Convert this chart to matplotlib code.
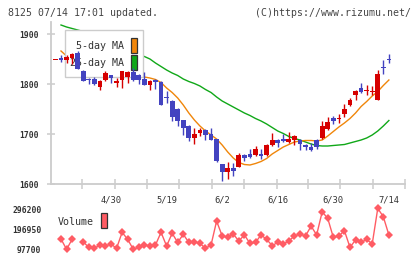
"""
Candlestick chart with 5/25-day moving averages and volume panel (rizumu style).
"""

import numpy as np
import matplotlib
matplotlib.use("Agg")
import matplotlib.pyplot as plt
from matplotlib.patches import Rectangle

W, H = 420, 259

# trading-day index -1 .. 59
opens = [1849, 1853, 1848, 1853, 1863, 1827, 1811, 1811, 1795, 1808, 1818,
         1803, 1809, 1815, 1825, 1818, 1810, 1799, 1809, 1805, 1774,
         1767, 1750, 1728, 1717, 1693, 1703, 1709, 1701, 1690, 1640,
         1625, 1633, 1635, 1658, 1660, 1658, 1661, 1658, 1678, 1689,
         1691, 1685, 1689, 1689, 1678, 1675, 1689, 1692, 1711, 1733,
         1730, 1741, 1758, 1778, 1793, 1787, 1785, 1768, 1834, 1850]
highs = [1849, 1858, 1859, 1862, 1867, 1828, 1813, 1814, 1808, 1826, 1819,
         1812, 1827, 1826, 1833, 1821, 1825, 1808, 1811, 1807, 1786,
         1769, 1752, 1729, 1718, 1713, 1713, 1710, 1713, 1691, 1641,
         1645, 1643, 1663, 1660, 1671, 1676, 1671, 1680, 1703, 1691,
         1701, 1705, 1698, 1690, 1681, 1683, 1690, 1727, 1735, 1736,
         1741, 1761, 1773, 1789, 1803, 1798, 1796, 1828, 1848, 1860]
lows = [1849, 1845, 1843, 1840, 1831, 1806, 1800, 1799, 1788, 1807, 1803,
        1795, 1793, 1803, 1806, 1801, 1799, 1788, 1791, 1758, 1763,
        1727, 1717, 1698, 1687, 1680, 1697, 1688, 1688, 1645, 1607,
        1611, 1616, 1634, 1647, 1652, 1657, 1651, 1656, 1677, 1675,
        1684, 1683, 1678, 1668, 1668, 1666, 1670, 1690, 1709, 1721,
        1723, 1735, 1757, 1769, 1783, 1778, 1778, 1768, 1821, 1843]
closes = [1849, 1848, 1854, 1861, 1831, 1807, 1809, 1800, 1807, 1823, 1813,
          1807, 1826, 1825, 1808, 1809, 1799, 1807, 1805, 1759, 1772,
          1735, 1727, 1713, 1693, 1700, 1709, 1699, 1689, 1646, 1625,
          1633, 1627, 1658, 1653, 1655, 1671, 1657, 1679, 1688, 1683,
          1686, 1691, 1696, 1680, 1675, 1668, 1674, 1716, 1725, 1727,
          1732, 1751, 1768, 1787, 1785, 1789, 1787, 1820, 1832, 1848]

ma5 = [np.nan, 1866, 1856, 1852, 1848, 1838, 1830, 1822, 1816, 1812, 1814,
       1814, 1814, 1815, 1815, 1815, 1814, 1812, 1809, 1803, 1792,
       1783, 1772, 1758, 1742, 1728, 1716, 1706, 1698, 1690, 1678,
       1664, 1652, 1643, 1639, 1638, 1641, 1645, 1651, 1660, 1667,
       1674, 1679, 1684, 1686, 1687, 1687, 1686, 1688, 1696, 1705,
       1714, 1722, 1731, 1742, 1755, 1765, 1776, 1785, 1797, 1808]
ma25 = [np.nan, 1918, 1914, 1911, 1908, 1905, 1902, 1898, 1894, 1889, 1884,
        1879, 1873, 1867, 1862, 1858, 1855, 1850, 1842, 1835, 1828,
        1822, 1817, 1810, 1805, 1801, 1796, 1789, 1783, 1774, 1766,
        1760, 1754, 1748, 1742, 1737, 1731, 1726, 1720, 1713, 1706,
        1701, 1695, 1691, 1688, 1684, 1680, 1677, 1676, 1676, 1677,
        1678, 1679, 1682, 1685, 1688, 1692, 1698, 1706, 1716, 1727]
volume = [np.nan, 148800, 97700, 147000, np.nan, 135000, 107000, 102700,
          119000, 114000, 124000, 102700, 182000, 147000, 97700, 107600,
          119000, 114000, 119000, 182000, 114000, 177000, 132000, 172000,
          132000, 135000, 127000, 102700, 119000, 238000, 164000, 157000,
          173000, 139000, 169000, 127000, 132000, 169000, 147000, 116000,
          132000, 124000, 139000, 164000, 173000, 164000, 213000, 169000,
          284000, 251000, 157000, 164000, 190000, 107600, 144000, 132000,
          147000, 124000, 301000, 259000, 169000]

date_pos = [9, 19, 29, 39, 49, 59]
date_labels = ["4/30", "5/19", "6/2", "6/16", "6/30", "7/14"]
tick_pos = [3.8, 9.7, 15.5, 21.2, 27.2, 32.9, 38.9, 44.4, 50.2, 56.1, 61.9]
price_ticks = [1600, 1700, 1800, 1900]
vol_ticks = [97700, 196950, 296200]

RED = "#d60000"
BLUE = "#4343c0"
ORANGE = "#f0860a"
GREEN = "#10a818"
VOLC = "#ff5c64"
AXC = "#cccccc"
TXT = "#333333"
MONO = "DejaVu Sans Mono"


def fx(x):
    return x / W


def fy(y):
    return 1 - y / H


fig = plt.figure(figsize=(W / 100, H / 100), dpi=100)

# ---- price panel ----
ax = fig.add_axes([fx(51), fy(184), (405 - 51) / W, (184 - 22) / H])
ax.set_xlim(-1.8, 61.9)
ax.set_ylim(1600, 1924)
ax.patch.set_alpha(0)

idx = np.arange(-1, 60)
o = np.array(opens, float)
c = np.array(closes, float)
up = c >= o
cols = np.where(up, RED, BLUE)
body_lo = np.minimum(o, c)
body_h = np.maximum(np.abs(c - o), 1.6)

ax.plot(idx, ma25, color=GREEN, lw=1.0, zorder=1)
ax.plot(idx, ma5, color=ORANGE, lw=1.0, zorder=1)

# legend box (under candles, over MA lines)
ax.add_patch(Rectangle((fx(65), fy(77)), fx(143 - 65), (77 - 30) / H,
                       transform=fig.transFigure, facecolor="white",
                       edgecolor=AXC, lw=1.0, zorder=2))
ax.text(fx(124), fy(46), "5-day MA", transform=fig.transFigure, ha="right",
        va="center", fontsize=7.2, family=MONO, color=TXT, zorder=2.5)
ax.text(fx(124), fy(62.5), "25-day MA", transform=fig.transFigure, ha="right",
        va="center", fontsize=7.2, family=MONO, color=TXT, zorder=2.5)
ax.add_patch(Rectangle((fx(131), fy(53)), fx(6), 15 / H,
                       transform=fig.transFigure, facecolor=ORANGE,
                       edgecolor="#333333", lw=0.9, zorder=2.5))
ax.add_patch(Rectangle((fx(131), fy(70)), fx(6), 15 / H,
                       transform=fig.transFigure, facecolor=GREEN,
                       edgecolor="#333333", lw=0.9, zorder=2.5))

ax.vlines(idx, lows, highs, colors=cols, lw=1.0, zorder=3)
ax.bar(idx, body_h, bottom=body_lo, width=0.85, color=cols, lw=0, zorder=3)

for s in ("top", "right"):
    ax.spines[s].set_visible(False)
for s in ("left", "bottom"):
    ax.spines[s].set_color(AXC)
    ax.spines[s].set_linewidth(1.3)

ax.set_yticks(price_ticks)
ax.set_yticklabels([str(t) for t in price_ticks], family=MONO, fontsize=5.8,
                   color=TXT, fontweight="bold")
ax.tick_params(axis="y", direction="inout", length=6, width=1.1, color=AXC,
               pad=6)
ax.set_xticks(date_pos)
ax.set_xticklabels(date_labels, family=MONO, fontsize=6.3, color=TXT)
ax.tick_params(axis="x", which="major", length=0, pad=8)
ax.set_xticks(tick_pos, minor=True)
ax.tick_params(axis="x", which="minor", direction="inout", length=7,
               width=1.1, color=AXC)

# ---- volume panel ----
vax = fig.add_axes([fx(51), fy(254), (405 - 51) / W, 50 / H])
vax.set_xlim(-1.8, 61.9)
vax.set_ylim(74400, 322500)
vax.plot(idx, volume, color=VOLC, lw=1.0, marker="D", markersize=3.6,
         markeredgewidth=0)
for s in vax.spines.values():
    s.set_visible(False)
vax.set_xticks([])
vax.set_yticks(vol_ticks)
vax.set_yticklabels([str(t) for t in vol_ticks], family=MONO, fontsize=5.8,
                    color=TXT, fontweight="bold")
vax.tick_params(axis="y", length=0, pad=7)
vax.patch.set_alpha(0)

fig.text(fx(58), fy(222), "Volume", ha="left", va="center", fontsize=7.2,
         family=MONO, color=TXT)
fig.patches.append(Rectangle((fx(101), fy(228)), fx(6), 15 / H,
                             transform=fig.transFigure, facecolor=VOLC,
                             edgecolor="#333333", lw=0.9))

# ---- header ----
fig.text(fx(8), fy(12.5), "8125 07/14 17:01 updated.", ha="left",
         va="center", fontsize=7.1, family=MONO, color="#444444")
fig.text(fx(411), fy(12.5), "(C)https://www.rizumu.net/", ha="right",
         va="center", fontsize=7.1, family=MONO, color="#444444")

fig.savefig("out.png", dpi=100)
